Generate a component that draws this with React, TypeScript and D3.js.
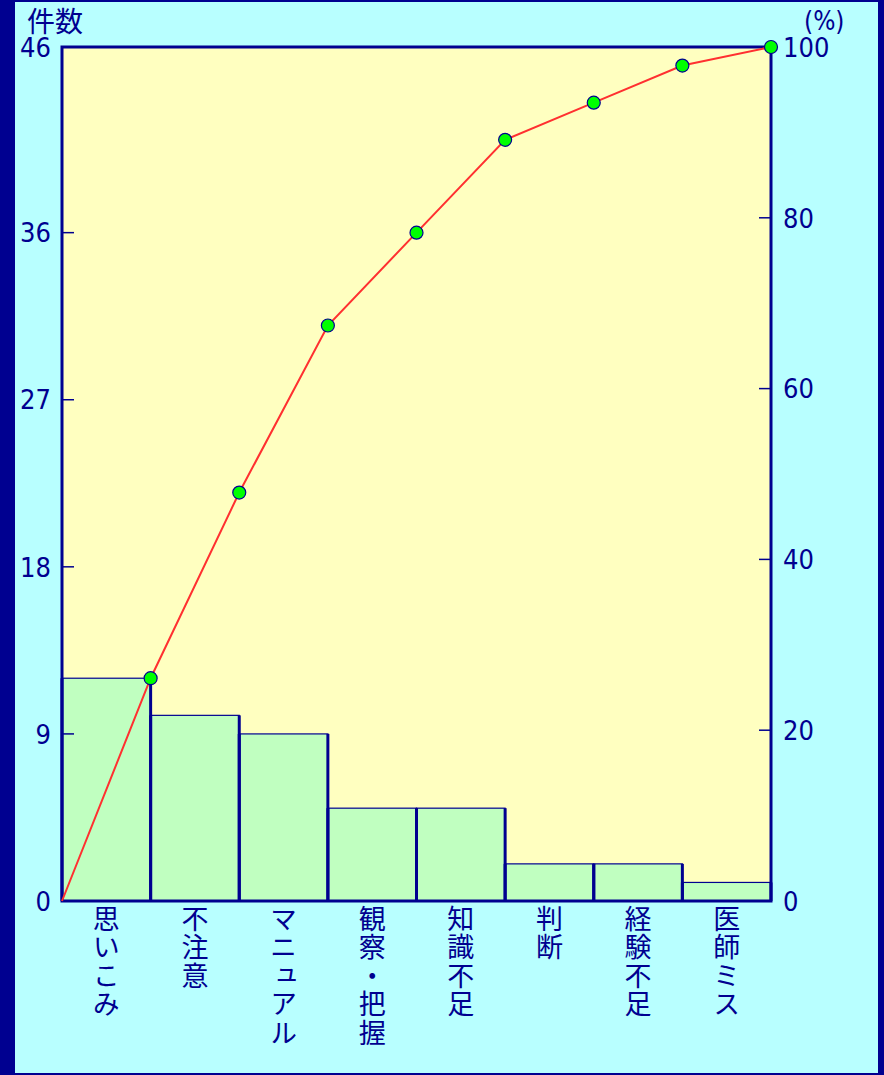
import React from "react";
import * as d3 from "d3";

// 事故要因別の件数（降順）
const categories = ["思いこみ", "不注意", "マニュアル", "観察・把握", "知識不足", "判断", "経験不足", "医師ミス"];
const counts = [12, 10, 9, 5, 5, 2, 2, 1];
const leftTicks = [0, 9, 18, 27, 36, 46];
const rightTicks = [0, 20, 40, 60, 80, 100];

const W = 884;
const H = 1075;
const NAVY = "#000090";
const NUM_FONT = "'Liberation Sans Narrow', 'DejaVu Sans Condensed', 'Liberation Sans', sans-serif";
const JP_FONT = "'Noto Sans CJK JP', sans-serif";

export default function App() {
  const left = 62, right = 771, top = 47, bottom = 901;
  const total = d3.sum(counts);

  const x = d3.scaleBand<number>().domain(d3.range(categories.length)).range([left, right]).padding(0);
  const y = d3.scaleLinear().domain([0, total]).range([bottom, top]);
  const yPct = d3.scaleLinear().domain([0, 100]).range([bottom, top]);

  const cum = d3.cumsum(counts);
  const pts: [number, number][] = [[left, y(0)]];
  counts.forEach((_, i) => pts.push([x(i)! + x.bandwidth(), y(cum[i])]));
  const line = d3.line<[number, number]>().x((d) => d[0]).y((d) => d[1]);

  return (
    <svg width={W} height={H} style={{ position: "absolute", left: 0, top: 0, display: "block" }}>
      {/* frame */}
      <rect x={0} y={0} width={W} height={H} fill={NAVY} />
      <rect x={15} y={2} width={863} height={1071} fill="#b8ffff" />

      {/* plot background */}
      <rect x={left} y={top} width={right - left} height={bottom - top} fill="#ffffc0" />

      {/* bars */}
      {counts.map((v, i) => (
        <rect key={"b" + i} x={x(i)!} y={y(v)} width={x.bandwidth()} height={bottom - y(v)}
          fill="#c0ffc0" stroke={NAVY} strokeWidth={1.2} />
      ))}
      {counts.map((v, i) => (
        <g key={"e" + i}>
          <line x1={x(i)!} x2={x(i)!} y1={bottom} y2={y(v)} stroke={NAVY} strokeWidth={3} />
          <line x1={x(i)! + x.bandwidth()} x2={x(i)! + x.bandwidth()} y1={bottom} y2={y(v)} stroke={NAVY} strokeWidth={3} />
        </g>
      ))}

      {/* ticks */}
      {leftTicks.slice(1, -1).map((t) => (
        <line key={"lt" + t} x1={left} x2={left + 12} y1={y(t)} y2={y(t)} stroke={NAVY} strokeWidth={1.5} />
      ))}
      {rightTicks.slice(1, -1).map((t) => (
        <line key={"rt" + t} x1={right - 12} x2={right} y1={yPct(t)} y2={yPct(t)} stroke={NAVY} strokeWidth={1.5} />
      ))}

      {/* plot border */}
      <rect x={left} y={top} width={right - left} height={bottom - top} fill="none" stroke={NAVY} strokeWidth={3} />

      {/* cumulative line */}
      <path d={line(pts)!} fill="none" stroke="#ff3030" strokeWidth={2} />
      {pts.slice(1).map((p, i) => (
        <circle key={"p" + i} cx={p[0]} cy={p[1]} r={6.5} fill="#00ff00" stroke={NAVY} strokeWidth={1.2} />
      ))}

      {/* left axis labels */}
      {leftTicks.map((t) => (
        <text key={"ll" + t} x={51} y={y(t)} dy="0.36em" textAnchor="end" fill={NAVY}
          fontFamily={NUM_FONT} fontSize={27}>{t}</text>
      ))}
      {/* right axis labels */}
      {rightTicks.map((t) => (
        <text key={"rl" + t} x={783} y={yPct(t)} dy="0.36em" textAnchor="start" fill={NAVY}
          fontFamily={NUM_FONT} fontSize={27}>{t}</text>
      ))}

      <text x={27} y={32} fill={NAVY} fontFamily={JP_FONT} fontSize={28}>件数</text>
      <text x={804} y={30} fill={NAVY} fontFamily={NUM_FONT} fontSize={26}>(%)</text>

      {/* category labels, set vertically */}
      {categories.map((c, i) => (
        <text key={"c" + i} x={x(i)! + x.bandwidth() / 2} y={905}
          fill={NAVY} fontFamily={JP_FONT} fontSize={27} letterSpacing={1.5}
          style={{ writingMode: "vertical-rl", textOrientation: "upright" }}>{c}</text>
      ))}
    </svg>
  );
}
